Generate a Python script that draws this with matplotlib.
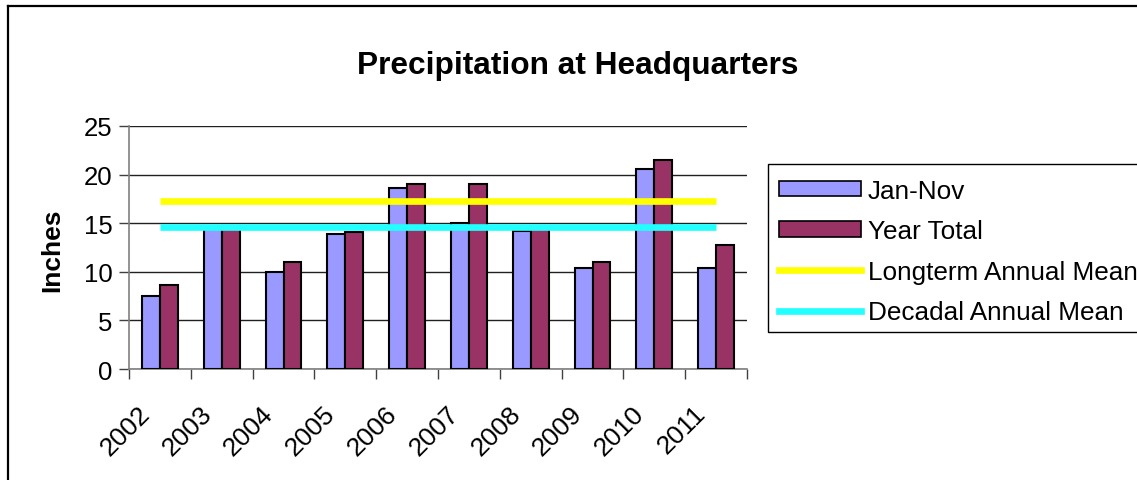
import matplotlib
matplotlib.use("Agg")
import matplotlib.pyplot as plt
import matplotlib.transforms as mtransforms
from matplotlib.patches import Rectangle, Patch
from matplotlib.lines import Line2D
import numpy as np

plt.rcParams['font.family'] = ['Liberation Sans', 'DejaVu Sans']

years = ['2002', '2003', '2004', '2005', '2006', '2007', '2008', '2009', '2010', '2011']
jan_nov = [7.5, 14.5, 10.0, 13.9, 18.6, 15.0, 14.2, 10.4, 20.6, 10.4]
year_total = [8.6, 14.7, 11.0, 14.1, 19.0, 19.0, 14.5, 11.0, 21.5, 12.8]
longterm_mean = 17.25
decadal_mean = 14.6
yticks = [0, 5, 10, 15, 20, 25]

c_jan = '#9999FF'
c_year = '#993366'
c_long = '#FFFF00'
c_dec = '#22FFFF'

W, H = 1137, 481
fig = plt.figure(figsize=(W / 100, H / 100), dpi=100)
fig.patch.set_facecolor('white')

def fx(px):
    return px / W

def fy(py):
    return 1 - py / H

ax = fig.add_axes([fx(129), fy(370), fx(747) - fx(129), fy(127) - fy(370)])

x = np.arange(len(years))
bw = 0.29
ax.bar(x - bw / 2, jan_nov, width=bw, color=c_jan, edgecolor='black', linewidth=1.5, zorder=3)
ax.bar(x + bw / 2, year_total, width=bw, color=c_year, edgecolor='black', linewidth=1.5, zorder=3)
ax.plot([x[0], x[-1]], [longterm_mean, longterm_mean], color=c_long, linewidth=4.8, zorder=4,
        solid_capstyle='butt')
ax.plot([x[0], x[-1]], [decadal_mean, decadal_mean], color=c_dec, linewidth=4.8, zorder=4,
        solid_capstyle='butt')

ax.set_xlim(-0.5, len(years) - 0.5)
ax.set_ylim(0, 25)
ax.set_yticks(yticks)
ax.yaxis.grid(True, color='#202020', linewidth=1.0, zorder=0)
ax.set_axisbelow(True)
for s in ['top', 'right']:
    ax.spines[s].set_visible(False)
ax.spines['left'].set_color('#808080')
ax.spines['bottom'].set_color('#808080')
ax.spines['left'].set_linewidth(1.2)
ax.spines['bottom'].set_linewidth(1.2)

ax.tick_params(axis='y', direction='out', length=7, width=1, color='#404040',
               labelsize=18.5, pad=5)
ax.set_xticks(np.arange(-0.5, len(years)), minor=True)
ax.tick_params(axis='x', which='minor', direction='out', length=7, width=1, color='#404040')
ax.set_xticks(x)
ax.set_xticklabels(years, rotation=45, ha='right', va='center', rotation_mode='anchor',
                   fontsize=19)
ax.tick_params(axis='x', which='major', length=0, pad=29)
offset = mtransforms.ScaledTranslation(-14 / 100, 0, fig.dpi_scale_trans)
for lab in ax.get_xticklabels():
    lab.set_transform(lab.get_transform() + offset)

fig.text(fx(52), fy(250), 'Inches', rotation=90, ha='center', va='center',
         fontsize=19, fontweight='bold')
fig.text(fx(578), fy(66), 'Precipitation at Headquarters', ha='center', va='center',
         fontsize=22.8, fontweight='bold')

# outer chart frame (continues past right and bottom edges)
fig.add_artist(Line2D([fx(8), 1.05], [fy(7), fy(7)], color='black', linewidth=1.6,
                      transform=fig.transFigure))
fig.add_artist(Line2D([fx(8), fx(8)], [fy(7), -0.05], color='black', linewidth=1.6,
                      transform=fig.transFigure))

# legend box (continues past right edge)
fig.add_artist(Rectangle((fx(768), fy(333)), 1.1 - fx(768), fy(165) - fy(333),
                         transform=fig.transFigure, facecolor='white', edgecolor='black',
                         linewidth=1.0, zorder=5))
handles = [Patch(facecolor=c_jan, edgecolor='black', linewidth=1.2),
           Patch(facecolor=c_year, edgecolor='black', linewidth=1.2),
           Line2D([], [], color=c_long, linewidth=4.8),
           Line2D([], [], color=c_dec, linewidth=4.8)]
labels = ['Jan-Nov', 'Year Total', 'Longterm Annual Mean', 'Decadal Annual Mean']
leg = fig.legend(handles, labels, loc='upper left', bbox_to_anchor=(fx(771), fy(172)),
                 frameon=False, fontsize=18.8, handlelength=3.15, handleheight=0.55,
                 handletextpad=0.27, labelspacing=0.63, borderpad=0.3, borderaxespad=0)
leg.set_zorder(6)

fig.savefig('out.png', dpi=100, facecolor='white')
